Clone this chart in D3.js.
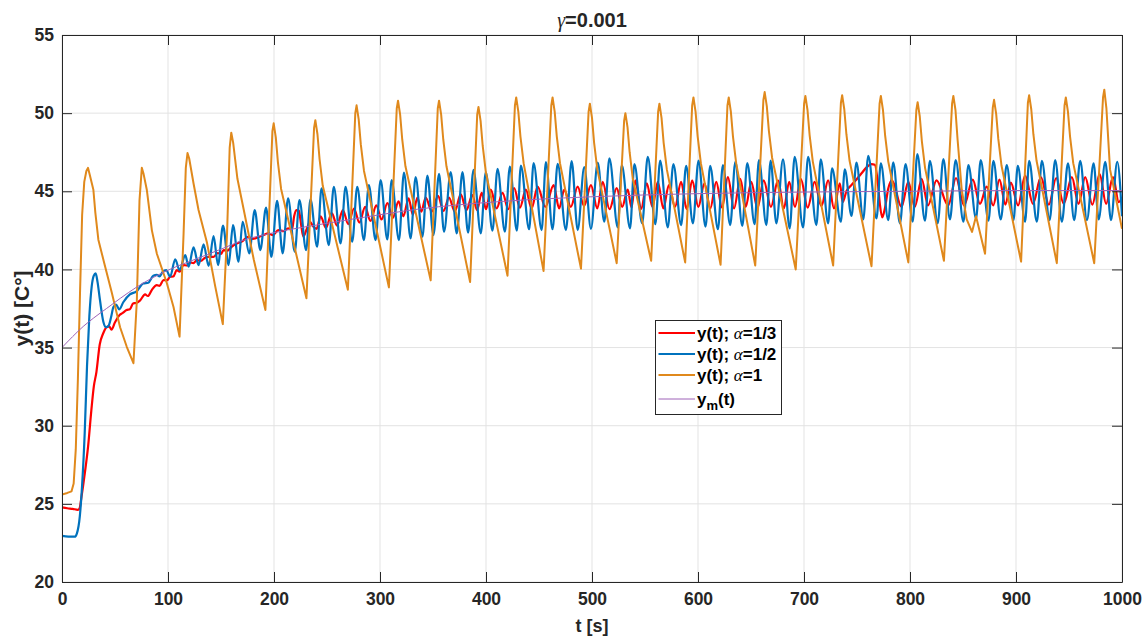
<!DOCTYPE html>
<html>
<head>
<meta charset="utf-8">
<script src="https://cdn.jsdelivr.net/npm/d3@7"></script>
<style>
  html, body { margin: 0; padding: 0; background: #fff; }
  svg { display: block; font-family: "Liberation Sans", Arial, Helvetica, sans-serif; }
</style>
</head>
<body>
<svg id="chart" width="1146" height="637"></svg>
<script>
// ---------------- data ----------------
const titleText = "=0.001";
const xLabel = "t [s]";
const yLabel = "y(t) [C°]";
const xTicks = [0, 100, 200, 300, 400, 500, 600, 700, 800, 900, 1000];
const yTicks = [20, 25, 30, 35, 40, 45, 50, 55];
const seriesNames = ["α=1/3", "α=1/2", "α=1", "ym"];
const seriesColors = ["#ff0000", "#0072bd", "#e0891c", "#9e63b8"];

// y(t), alpha = 1/3  [t, y]
const yAlpha13 = [
[0,24.78],[5,24.72],[10,24.68],[15,24.62],[16.5,24.7],[18.4,25.46],[21.5,26.95],[24.6,28.66],[27.7,31.0],[30,32.5],[32.5,33.45],[35.6,35.2],[38.8,35.9],[42,36.3],[44.5,36.35],[46.7,36.15],[49.9,36.6],[54.6,37.1],[57,37.2],[60.9,37.4],[64,37.45],[67.2,37.83],[70,37.85],[73.5,38.0],[78.4,38.4],[81,38.3],[84.7,38.68],[89.4,39.0],[92,38.95],[95.7,39.32],[99,39.3],[102,39.53],[105,39.55],[108.3,39.96],[111,39.85],[114.6,40.28],[118,40.25],[121,40.45],[124,40.4],[127.2,40.6],[131,40.55],[135,40.75],[139.8,40.81],[143,40.8],[147,41.05],[150,41.0],[152.4,41.24],[156,41.2],[160,41.45],[165,41.66],[170,41.8],[175.5,42.09],[180,41.95],[185,42.05],[190,42.2],[194.5,42.31],[199,42.2],[204,42.52],[209,42.45],[213.3,42.63],[217,42.55],[219,43.4],[221,43.8],[223.5,43.75],[225.5,42.9],[227.6,42.1],[231,42.6],[233.9,43.05],[237,42.75],[240.2,42.6],
[244,43.4],[249,42.65],[254.5,43.6],[259.5,42.8],[265,43.8],[270,42.9],[275.5,43.9],[280.5,43.0],[286,44.0],[291,43.1],[296.5,44.1],[301.5,43.2],[307,44.25],[312,43.3],[317.5,44.35],[322,43.4],[327,44.55],[331,43.5],[335.3,44.6],[339,43.7],[343.1,44.6],[349,43.7],[354.7,44.7],[360,43.75],[365.1,44.6],[370.5,43.7],[376.2,44.8],[381.5,43.8],[387.2,44.75],[391.5,43.8],[396,44.9],[400,43.85],[404.5,45.1],[410,43.9],[415.6,44.9],[421,43.85],[426.6,45.2],[432,43.95],[437.6,45.1],[443,43.9],[448.7,45.3],[456,44.0],[463.8,45.4],[469,43.9],[473.8,45.1],[480,44.0],[486.5,45.3],[492.5,44.05],[499,45.4],[505,43.9],[510.1,45.6],[516.5,43.85],[523.3,45.2],[528.5,44.0],[533.7,45.1],[537.3,43.95],[540.9,45.7],[546.3,43.85],[551.7,45.5],[557,44.0],[562.1,45.6],[567.3,43.9],[572.5,45.4],[578.3,44.0],[584.1,45.6],[589.3,43.85],[594.5,45.7],[600.3,44.0],[606.1,45.5],[611.6,43.9],[617.2,45.6],[622.7,43.95],[628.2,45.9],[634,43.9],[639.9,45.8],[645,44.0],[650.3,45.6],[656,43.9],[662,45.7],[668.8,44.0],[675.5,45.7],[681,43.9],[686,45.6],[691.5,44.0],[697,45.8],[703.5,43.95],[710,45.6],[716.4,44.05],[722.8,45.7],[728.3,43.9],[733.8,45.5],[736.5,44.3],[740,45.0],[744.8,45.4],[749.5,45.76],[754.3,46.15],[759,46.53],[763.7,46.74],[766.8,46.7],[769.4,45.72],[771.5,44.23],[773.8,43.33],[776.3,43.9],[779.5,45.18],[783,45.7],[792,44.0],[798.4,45.6],[804.5,44.0],[811,45.8],[817,44.1],[825,45.7],[836,44.1],[843.4,45.85],[851,44.1],[859.2,45.75],[866,44.2],[872.4,45.3],[878.5,44.1],[884.4,45.75],[890,44.15],[895.1,45.55],[902,44.1],[908.6,46.0],[916,44.2],[923.5,45.9],[931,44.15],[937.9,45.85],[945,44.2],[952.7,45.9],[959,44.2],[965.3,45.9],[972,44.15],[978.9,46.1],[985,44.2],[991.5,45.9],[997,44.3],[1000,44.6]
];

// y(t), alpha = 1/2  [t, y]
const yAlpha12 = [
[0,22.95],[6,22.9],[12,22.9],[14,23.1],[16.8,24.2],[18.9,26.1],[21.4,29.5],[23.6,33.8],[25.8,37.0],[28,38.9],[30,39.6],[31.8,39.75],[33.5,39.2],[35.9,38.0],[39,36.65],[41.6,36.3],[44,36.4],[46.5,37.0],[48.5,37.6],[51,37.75],[54,37.45],[57.8,37.9],[64,38.4],[70.4,38.6],[76.7,39.1],[81.4,39.15],[86.1,39.6],[89.5,39.65],[92,39.55],[95,39.85],[98.3,39.96],[102,39.53],
[106.8,40.65],[110.9,39.96],[116.3,40.92],[119.4,40.17],[124.1,41.41],[128.8,40.28],[133.6,41.6],[138.3,40.22],[143,42.14],[147.2,40.28],[151.9,42.8],[157.2,40.28],[161.3,42.84],[166.6,40.49],[170.4,43.05],[176.7,41.03],[181.8,43.8],[187.1,41.24],[192.5,43.95],[197.5,40.81],[202.9,44.39],[208.2,41.03],[213.3,44.55],[219.6,41.13],[224,44.43],[230.3,41.24],[234.4,44.48],[240.7,41.45],[244.8,45.18],[251.7,41.56],[256.4,45.29],[262.8,41.66],[267.5,45.29],[273.8,41.77],[278.5,45.29],[284.8,41.88],[289.5,45.4],[295.8,41.88],[300.6,45.72],[306.9,41.92],[311,45.72],[317.9,41.88],[322.6,46.19],[328.9,41.99],[333.6,45.9],[340,42.09],[344.7,46.0],[350.4,42.2],[355.7,46.11],[360.4,42.41],[366.7,46.22],[372.4,42.31],[377.8,46.22],[383.1,42.35],[388.2,46.37],[395.1,42.31],[399.8,46.22],[406.1,42.48],[410.9,46.43],[417.8,42.41],[422.5,46.58],[429.1,42.48],[432.9,46.65],[440.7,42.57],[444.9,46.8],[452.5,42.52],[456.5,46.86],[462.8,42.57],[467.6,46.76],[475.4,42.52],[480.8,46.93],[486.5,42.52],[492.7,46.54],[499,42.6],[505.4,46.83],[511.6,43.05],[516.4,47.1],[524.3,42.69],[528.1,46.67],[535.9,42.63],[540,46.74],[547.3,42.95],[552.6,47.21],[559.8,42.9],[564.3,46.96],[571.5,42.69],[576.8,46.74],[584.1,42.84],[588.8,46.62],[595.2,42.95],[600.5,46.96],[607.1,42.73],[611.5,46.62],[618.8,42.57],[623.5,46.67],[630.4,42.84],[635.2,46.89],[641.8,42.78],[646.5,46.8],[653.4,42.9],[657.5,47.0],[664.5,42.84],[668.5,46.96],[673.9,42.95],[680.2,47.04],[686.5,42.63],[691.2,47.21],[699.1,42.69],[703.9,47.21],[711.7,42.84],[715.8,47.04],[722.8,42.95],[726.5,46.46],[734.7,43.05],[738.5,46.4],[744.8,43.42],[749.5,46.83],[755.9,43.2],[760.6,47.27],[768.4,43.26],[772.5,46.78],[779.5,43.16],[784.2,46.85],[790.5,42.95],[795.8,46.74],[802.5,43.05],[806.9,47.38],[814.1,43.12],[818.8,46.94],[826.1,42.95],[831.5,47.06],[837.7,43.2],[843.1,47.0],[850.4,43.05],[855.1,46.68],[862.3,43.26],[866.7,47.0],[874,43.12],[878.7,46.94],[885.6,43.2],[891.3,46.68],[897.6,43.16],[901.7,46.62],[908.6,43.05],[912.4,46.94],[919.7,43.05],[924.4,46.94],[931.7,43.16],[937,47.0],[943.3,43.05],[949,46.78],[954.9,43.16],[960.6,46.94],[966.9,43.16],[973.2,46.78],[978,43.2],[984.2,46.89],[989.6,43.16],[995.5,46.89],[1000,43.4]
];

// y(t), alpha = 1  [t, y]
const yAlpha1 = [
[0,25.6],[5,25.7],[9,25.8],[11,26.3],[13,28.5],[15,33],[17,38.5],[19,43.5],[21,45.6],[23,46.3],[24.5,46.5],[26,46.1],[29.6,45.1],[31.5,43.6],[34.3,41.9],[40.6,40.2],[47,38.5],[54.8,36.3],[61.1,35.05],[67.4,34.0],
[70.6,38.0],[73.1,44.4],[75.3,46.5],[77,46.1],[80,45.1],[84.8,42.5],[89.5,41.0],[99,39.1],[105.2,37.6],[110.9,35.7],
[114.7,42.3],[116.8,46.5],[118.4,47.45],[120,47.1],[124.1,45.5],[128.8,43.8],[136.8,41.7],[144.6,38.9],[151.7,36.5],
[155.7,42.3],[158.2,47.8],[159.7,48.75],[161.5,48.1],[165.5,45.8],[171.5,43.8],[181,40.6],[191.9,37.4],
[198.5,48.85],[199.7,49.35],[201.7,48.45],[203.7,46.85],[206.7,45.15],[230.6,38.15],
[237.8,49.05],[239,49.55],[241,48.65],[243,47.05],[246,45.35],[269.7,38.7],
[276.7,50.0],[277.9,50.5],[279.9,49.6],[281.9,48.0],[284.9,46.3],[308.4,38.85],
[315.8,50.3],[317,50.8],[319,49.9],[321,48.3],[324,46.6],[347.8,39.3],
[354.5,50.3],[355.7,50.8],[357.7,49.9],[359.7,48.3],[362.7,46.6],[385,39.2],
[391.7,49.9],[392.9,50.4],[394.9,49.5],[396.9,47.9],[399.9,46.2],[420.3,39.6],
[427.3,50.5],[428.5,51.0],[430.5,50.1],[432.5,48.5],[435.5,46.8],[454.3,39.9],
[461.6,50.5],[462.8,51.0],[464.8,50.1],[466.8,48.5],[469.8,46.8],[489.6,40.05],
[496.8,50.1],[498,50.6],[500,49.7],[502,48.1],[505,46.4],[523.3,40.4],
[530.3,49.5],[531.5,50.0],[533.5,49.1],[535.5,47.5],[538.5,45.8],[555.8,40.55],
[562.4,50.1],[563.6,50.6],[565.6,49.7],[567.6,48.1],[570.6,46.4],[587.9,40.45],
[594.5,50.5],[595.7,51.0],[597.7,50.1],[599.7,48.5],[602.7,46.8],[621.3,40.3],
[627.8,50.5],[629,51.0],[631,50.1],[633,48.5],[636,46.8],[654,40.25],
[661.7,50.85],[662.9,51.35],[664.9,50.45],[666.9,48.85],[669.9,47.15],[692.2,40.0],
[700.1,50.6],[701.3,51.1],[703.3,50.2],[705.3,48.6],[708.3,46.9],[727.5,40.25],
[734.8,50.65],[736,51.15],[738,50.25],[740,48.65],[743,46.95],[763.7,40.2],
[771.3,50.6],[772.5,51.1],[774.5,50.2],[776.5,48.6],[779.5,46.9],[798.4,40.45],
[806,50.2],[807.2,50.7],[809.2,49.8],[811.2,48.2],[814.2,46.5],[832,40.55],
[839.7,50.6],[840.9,51.1],[842.9,50.2],[844.9,48.3],[848.8,45.1],[853.5,43.2],[858.5,42.4],[862.3,43.4],[870.8,41.0],
[878.1,50.35],[879.3,50.85],[881.3,49.95],[883.3,48.35],[886.3,46.65],[904.8,40.5],
[911.2,50.65],[912.4,51.15],[914.4,50.25],[916.4,48.65],[919.4,46.95],[938.5,40.4],
[945.8,50.5],[947,51.0],[949,50.1],[951,48.5],[954,46.8],[973.8,40.4],
[982.1,51.0],[983.3,51.5],[985.3,50.3],[988.7,46.4],[995.3,44.2],[1000,42.6]
];

// y_m(t) reference model  [t, y]
const yModel = [
[0,35],[10,35.7],[20,36.35],[30,36.9],[42,37.5],[55,38.15],[70,38.85],[85,39.45],[105,40.1],[120,40.5],[137,40.95],[152,41.35],[168,41.8],[200,42.35],[250,42.95],[300,43.5],[335,43.85],[415,44.35],[500,44.65],[600,44.85],[700,44.95],[800,45.0],[900,45.05],[1000,45.05]
];

// ---------------- drawing ----------------
const svg = d3.select("#chart");
const W = 1146, H = 637;
const L = 62, R = 1122, T = 35, B = 582;
const axisColor = "#262626";

svg.append("rect").attr("width", W).attr("height", H).attr("fill", "#fff");

const x = d3.scaleLinear().domain([0, 1000]).range([L, R]);
const y = d3.scaleLinear().domain([20, 55]).range([B, T]);

// grid
const grid = svg.append("g").attr("class", "grid");
grid.selectAll("line.gx").data(xTicks).join("line")
  .attr("x1", d => x(d)).attr("x2", d => x(d)).attr("y1", T).attr("y2", B)
  .attr("stroke", "#e3e3e3").attr("stroke-width", 1);
grid.selectAll("line.gy").data(yTicks).join("line")
  .attr("x1", L).attr("x2", R).attr("y1", d => y(d)).attr("y2", d => y(d))
  .attr("stroke", "#e3e3e3").attr("stroke-width", 1);

// clip
svg.append("clipPath").attr("id", "plotClip").append("rect")
  .attr("x", L).attr("y", T).attr("width", R - L).attr("height", B - T);

const plot = svg.append("g").attr("clip-path", "url(#plotClip)");
const smooth = d3.line().x(d => x(d[0])).y(d => y(d[1])).curve(d3.curveMonotoneX);
const sharp = d3.line().x(d => x(d[0])).y(d => y(d[1])).curve(d3.curveLinear);

plot.append("path").datum(yAlpha13).attr("d", smooth).attr("fill", "none")
  .attr("stroke", seriesColors[0]).attr("stroke-width", 2.2).attr("stroke-linejoin", "round");
plot.append("path").datum(yAlpha12).attr("d", smooth).attr("fill", "none")
  .attr("stroke", seriesColors[1]).attr("stroke-width", 2.2).attr("stroke-linejoin", "round");
plot.append("path").datum(yAlpha1).attr("d", sharp).attr("fill", "none")
  .attr("stroke", seriesColors[2]).attr("stroke-width", 2).attr("stroke-linejoin", "round");
plot.append("path").datum(yModel).attr("d", smooth).attr("fill", "none")
  .attr("stroke", seriesColors[3]).attr("stroke-width", 1);

// axes
const tickFont = g => g.selectAll("text")
  .attr("font-size", 17.5).attr("font-weight", "bold").attr("fill", axisColor)
  .attr("font-family", "'Liberation Sans', Arial, sans-serif");

const gx = svg.append("g").attr("transform", `translate(0,${B})`)
  .call(d3.axisBottom(x).tickValues(xTicks).tickSizeInner(-10).tickSizeOuter(0).tickPadding(11).tickFormat(d3.format("d")));
const gxt = svg.append("g").attr("transform", `translate(0,${T})`)
  .call(d3.axisTop(x).tickValues(xTicks).tickSizeInner(-10).tickSizeOuter(0).tickFormat(""));
const gy = svg.append("g").attr("transform", `translate(${L},0)`)
  .call(d3.axisLeft(y).tickValues(yTicks).tickSizeInner(-10).tickSizeOuter(0).tickPadding(8).tickFormat(d3.format("d")));
const gyr = svg.append("g").attr("transform", `translate(${R},0)`)
  .call(d3.axisRight(y).tickValues(yTicks).tickSizeInner(-10).tickSizeOuter(0).tickFormat(""));

[gx, gxt, gy, gyr].forEach(g => {
  g.select(".domain").attr("stroke", axisColor).attr("stroke-width", 1);
  g.selectAll(".tick line").attr("stroke", axisColor).attr("stroke-width", 1);
  g.call(tickFont);
});

// title
const title = svg.append("text").attr("x", 592).attr("y", 27).attr("text-anchor", "middle")
  .attr("font-size", 20).attr("font-weight", "bold").attr("fill", axisColor);
title.append("tspan").attr("font-family", "'Liberation Serif', 'DejaVu Serif', serif")
  .attr("font-style", "italic").attr("font-weight", "normal").text("γ");
title.append("tspan").text(titleText);

// axis labels
svg.append("text").attr("x", 592).attr("y", 632).attr("text-anchor", "middle")
  .attr("font-size", 18).attr("font-weight", "bold").attr("fill", axisColor).text(xLabel);
svg.append("text").attr("transform", `translate(29,${(T + B) / 2}) rotate(-90)`)
  .attr("text-anchor", "middle")
  .attr("font-size", 21).attr("font-weight", "bold").attr("fill", axisColor).text(yLabel);

// legend
const leg = svg.append("g");
leg.append("rect").attr("x", 655.5).attr("y", 320.5).attr("width", 126).attr("height", 94)
  .attr("fill", "#fff").attr("stroke", axisColor).attr("stroke-width", 1);
const rowY = [333, 354, 375, 399];
const widths = [2, 2, 2, 1];
seriesNames.forEach((name, i) => {
  leg.append("line").attr("x1", 658.5).attr("x2", 695).attr("y1", rowY[i]).attr("y2", rowY[i])
    .attr("stroke", seriesColors[i]).attr("stroke-width", widths[i]);
  const t = leg.append("text").attr("x", 697).attr("y", rowY[i] + 6)
    .attr("font-size", 17).attr("font-weight", "bold").attr("fill", "#000");
  if (name === "ym") {
    t.append("tspan").text("y");
    t.append("tspan").attr("dy", 4.5).attr("font-size", 13).text("m");
    t.append("tspan").attr("dy", -4.5).text("(t)");
  } else {
    t.append("tspan").text("y(t); ");
    t.append("tspan").attr("font-family", "'Liberation Serif', 'DejaVu Serif', serif")
      .attr("font-style", "italic").attr("font-weight", "normal").text("α");
    t.append("tspan").text(name.slice(1));
  }
});
</script>
</body>
</html>
